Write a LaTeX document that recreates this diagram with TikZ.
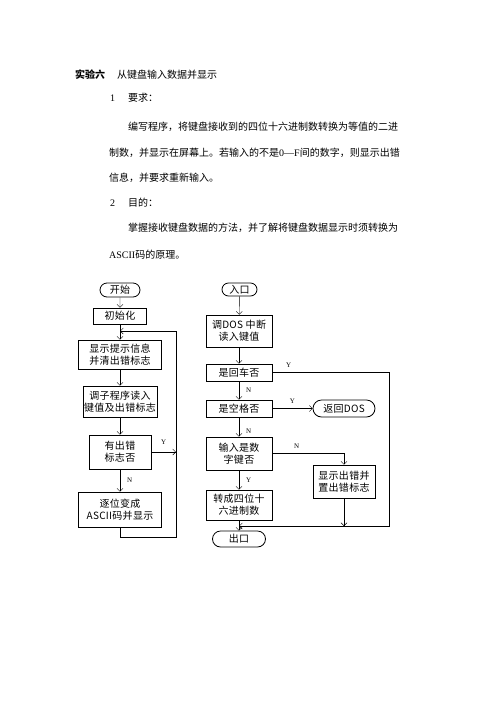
\documentclass[tikz,border=0pt]{standalone}
\usepackage{fontspec}
\setmainfont{Liberation Serif}
\newfontfamily\cjk{Noto Sans CJK SC}
\newfontfamily\cjkbox[LetterSpace=3]{Noto Sans CJK SC}
\usetikzlibrary{shapes.misc,arrows.meta}

\begin{document}
\begin{tikzpicture}[x=1pt,y=-1pt,
    >={Straight Barb[length=3pt,width=6pt]},
    box/.style={draw,line width=.8pt,inner sep=0pt,align=center,
      font=\cjkbox\fontsize{10}{12}\selectfont},
    term/.style={draw,rounded rectangle,line width=.8pt,inner sep=0pt,
      font=\cjkbox\fontsize{10}{12}\selectfont},
    yn/.style={font=\fontsize{7}{7}\selectfont,inner sep=1pt},
    txt/.style={anchor=west,inner sep=0pt,font=\cjk\fontsize{10}{12}\selectfont}
  ]
  \useasboundingbox (0,0) rectangle (496,702);
  % text
  \node[txt] (t0) at (75,75) {\bfseries 实验六};
  \node[txt] (t1) at (117,75) {从键盘输入数据并显示};
  \node[txt] (n1) at (110,98) {\rmfamily 1};
  \node[txt] (t2) at (128,98) {要求：};
  \node[txt] (t3) at (128,127) {编写程序，将键盘接收到的四位十六进制数转换为等值的二进};
  \node[txt] (t4) at (109,153) {制数，并显示在屏幕上。若输入的不是{\rmfamily 0—F}间的数字，则显示出错};
  \node[txt] (t5) at (109,178) {信息，并要求重新输入。};
  \node[txt] (n2) at (110,203) {\rmfamily 2};
  \node[txt] (t6) at (128,203) {目的：};
  \node[txt] (t7) at (128,228) {掌握接收键盘数据的方法，并了解将键盘数据显示时须转换为};
  \node[txt] (t8) at (109,255) {{\rmfamily ASCII}码的原理。};
  % main program
  \node[term,minimum width=40pt,minimum height=14pt] (start) at (120,290) {开始};
  \node[box,minimum width=53pt,minimum height=16pt] (init) at (120,316) {初始化};
  \node[box,minimum width=83pt,minimum height=29pt] (show) at (120,354.5) {显示提示信息\\并清出错标志};
  \node[box,minimum width=74pt,minimum height=31pt] (call) at (120,401.5) {调子程序读入\\键值及出错标志};
  \node[box,minimum width=62pt,minimum height=34pt] (flag) at (120,452) {有出错\\标志否};
  \node[box,minimum width=83pt,minimum height=35pt] (conv) at (120,509.5) {逐位变成\\ASCII码并显示};
  \coordinate (jl) at (120,331);
  \coordinate (rl) at (176,452);
  \coordinate (lb) at (176,537);
  \draw[->] (start) -- (init);
  \draw[->] (init) -- (show);
  \draw[->] (show) -- (call);
  \draw[->] (call) -- (flag);
  \draw[->] (flag) -- node[yn,right=6pt] {N} (conv);
  \draw[->] (flag) -- node[yn,above=6pt] {Y} (rl);
  \draw[->] (conv) |- (lb) |- (jl);
  % subroutine
  \node[term,minimum width=35pt,minimum height=13pt] (entry) at (239.5,289.5) {入口};
  \node[box,minimum width=66pt,minimum height=32pt] (dos) at (239,331) {调DOS 中断\\读入键值};
  \node[box,minimum width=66pt,minimum height=17pt] (cr) at (239,372.5) {是回车否};
  \node[box,minimum width=66pt,minimum height=17pt] (sp) at (239,408.5) {是空格否};
  \node[term,minimum width=62pt,minimum height=17pt] (ret) at (344,408.5) {返回DOS};
  \node[box,minimum width=66pt,minimum height=33pt] (num) at (239,453.5) {输入是数\\字键否};
  \node[box,minimum width=62pt,minimum height=33pt] (err) at (344,481.5) {显示出错并\\置出错标志};
  \node[box,minimum width=66pt,minimum height=30pt] (hex) at (239,505) {转成四位十\\六进制数};
  \node[term,minimum width=53pt,minimum height=16pt] (exit) at (239,539) {出口};
  \coordinate (jr) at (239,526);
  \coordinate (rc) at (389,526);
  \draw[->] (entry) -- (dos);
  \draw[->] (dos) -- (cr);
  \draw[->] (cr) -- node[yn,right=6pt] {N} (sp);
  \draw[->] (sp) -- node[yn,right=6pt,pos=.7] {N} (num);
  \draw[->] (num) -- node[yn,right=6pt] {Y} (hex);
  \draw[->] (hex) -- (exit);
  \draw[->] (sp) -- node[yn,above=4pt] {Y} (ret);
  \draw[->] (num.east) -| node[yn,above=4pt,pos=.17] {N} (err.north);
  \draw[->] (err) -- (err.south |- jr);
  \draw[->] (cr.east) -| node[yn,above=4pt,pos=.07] {Y} (rc) -- (jr);
\end{tikzpicture}
\end{document}
